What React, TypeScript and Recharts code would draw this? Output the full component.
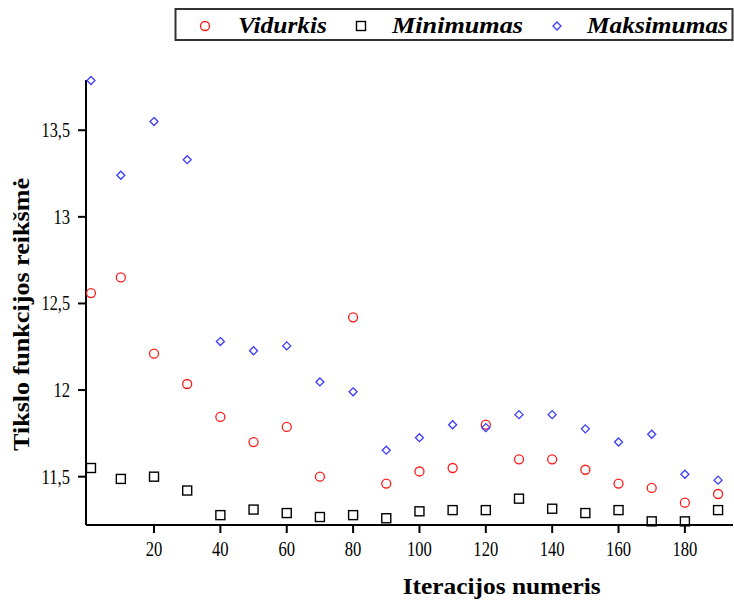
import React from 'react';
import { ScatterChart, Scatter, XAxis, YAxis, Label } from 'recharts';

const iterations = [1, 10, 20, 30, 40, 50, 60, 70, 80, 90, 100, 110, 120, 130, 140, 150, 160, 170, 180, 190];
const vidurkis = [12.56, 12.65, 12.21, 12.035, 11.845, 11.7, 11.787, 11.5, 12.42, 11.46, 11.53, 11.55, 11.8, 11.6, 11.6, 11.54, 11.46, 11.435, 11.35, 11.4];
const minimumas = [11.55, 11.487, 11.5, 11.42, 11.278, 11.31, 11.29, 11.267, 11.278, 11.26, 11.3, 11.307, 11.307, 11.373, 11.315, 11.29, 11.307, 11.242, 11.242, 11.307];
const maksimumas = [13.787, 13.24, 13.55, 13.33, 12.28, 12.227, 12.255, 12.047, 11.99, 11.653, 11.725, 11.8, 11.783, 11.858, 11.858, 11.776, 11.7, 11.745, 11.514, 11.48];
const xTicks = [20, 40, 60, 80, 100, 120, 140, 160, 180];
const yTicks = [11.5, 12, 12.5, 13, 13.5];
const seriesNames = ['Vidurkis', 'Minimumas', 'Maksimumas'];
const xTitle = 'Iteracijos numeris';
const yTitle = 'Tikslo funkcijos reikšmė';

const RED = '#ff1a1a';
const BLACK = '#000000';
const BLUE = '#3a3aff';

const vData = iterations.map((x, i) => ({ x, y: vidurkis[i] }));
const minData = iterations.map((x, i) => ({ x, y: minimumas[i] }));
const maxData = iterations.map((x, i) => ({ x, y: maksimumas[i] }));

const CircleShape = (p: any) => <circle cx={p.cx} cy={p.cy} r={4.5} fill="none" stroke={RED} strokeWidth={1.3} />;
const SquareShape = (p: any) => <rect x={p.cx - 4.5} y={p.cy - 4.5} width={9} height={9} fill="none" stroke={BLACK} strokeWidth={1.4} />;
const DiamondShape = (p: any) => (
  <polygon points={`${p.cx},${p.cy - 4} ${p.cx + 4},${p.cy} ${p.cx},${p.cy + 4} ${p.cx - 4},${p.cy}`} fill="none" stroke={BLUE} strokeWidth={1.3} />
);

const serif = 'Liberation Serif';
const tickStyle: React.CSSProperties = { fontFamily: serif, fontSize: 20, fill: '#000' };
const titleStyle: React.CSSProperties = { fontFamily: serif, fontWeight: 'bold', fontSize: 24, fill: '#000' };
const legendStyle: React.CSSProperties = { fontFamily: serif, fontWeight: 'bold', fontStyle: 'italic', fontSize: 23, fill: '#000' };

const labelLen = (s: string) => {
  let w = 0;
  for (const ch of s) w += ch === ',' ? 3.5 : 8.3;
  return w;
};

const XTick = (p: any) => {
  const s = String(p.payload.value);
  return (
    <text x={p.x} y={p.y + 21} textAnchor="middle" style={tickStyle} textLength={labelLen(s)} lengthAdjust="spacingAndGlyphs">
      {s}
    </text>
  );
};

const YTick = (p: any) => {
  const s = String(p.payload.value).replace('.', ',');
  return (
    <text x={p.x} y={p.y + 7} textAnchor="end" style={tickStyle} textLength={labelLen(s)} lengthAdjust="spacingAndGlyphs">
      {s}
    </text>
  );
};

export default function App() {
  return (
    <div style={{ position: 'absolute', left: 0, top: 0, width: 734, height: 608, background: '#fff', fontFamily: serif }}>
      <ScatterChart width={734} height={608} margin={{ top: 80, right: 1, left: 26, bottom: 53 }} style={{ fontFamily: serif }}>
        <XAxis
          type="number"
          dataKey="x"
          domain={[-0.5, 194.5]}
          ticks={xTicks}
          tickSize={8}
          tickMargin={2}
          tick={<XTick />}
          axisLine={{ stroke: '#000', strokeWidth: 2 }}
          tickLine={{ stroke: '#000', strokeWidth: 2 }}
          height={30}
        >
          <Label
            content={() => (
              <text x={501.7} y={594} textAnchor="middle" style={titleStyle} textLength={198} lengthAdjust="spacingAndGlyphs">
                {xTitle}
              </text>
            )}
          />
        </XAxis>
        <YAxis
          type="number"
          dataKey="y"
          domain={[11.221, 13.79]}
          ticks={yTicks}
          tickSize={8}
          tickMargin={8}
          width={60}
          tick={<YTick />}
          axisLine={{ stroke: '#000', strokeWidth: 2 }}
          tickLine={{ stroke: '#000', strokeWidth: 2 }}
        >
          <Label
            content={() => (
              <text x={28.5} y={314.5} transform="rotate(-90 28.5 314.5)" textAnchor="middle" style={titleStyle} textLength={273} lengthAdjust="spacingAndGlyphs">
                {yTitle}
              </text>
            )}
          />
        </YAxis>
        <Scatter name={seriesNames[0]} data={vData} shape={CircleShape} isAnimationActive={false} />
        <Scatter name={seriesNames[1]} data={minData} shape={SquareShape} isAnimationActive={false} />
        <Scatter name={seriesNames[2]} data={maxData} shape={DiamondShape} isAnimationActive={false} />
      </ScatterChart>
      <svg width={734} height={50} style={{ position: 'absolute', left: 0, top: 0 }}>
        <rect x={175.5} y={9} width={557} height={31} fill="#fff" stroke="#333" strokeWidth={2} />
        <circle cx={205} cy={26} r={4.5} fill="none" stroke={RED} strokeWidth={1.3} />
        <text x={238} y={33} style={legendStyle} textLength={89} lengthAdjust="spacingAndGlyphs">{seriesNames[0]}</text>
        <rect x={356.5} y={21.5} width={9} height={9} fill="none" stroke={BLACK} strokeWidth={1.4} />
        <text x={392} y={33} style={legendStyle} textLength={131} lengthAdjust="spacingAndGlyphs">{seriesNames[1]}</text>
        <polygon points="557,22 561,26 557,30 553,26" fill="none" stroke={BLUE} strokeWidth={1.3} />
        <text x={587} y={33} style={legendStyle} textLength={141} lengthAdjust="spacingAndGlyphs">{seriesNames[2]}</text>
      </svg>
    </div>
  );
}
